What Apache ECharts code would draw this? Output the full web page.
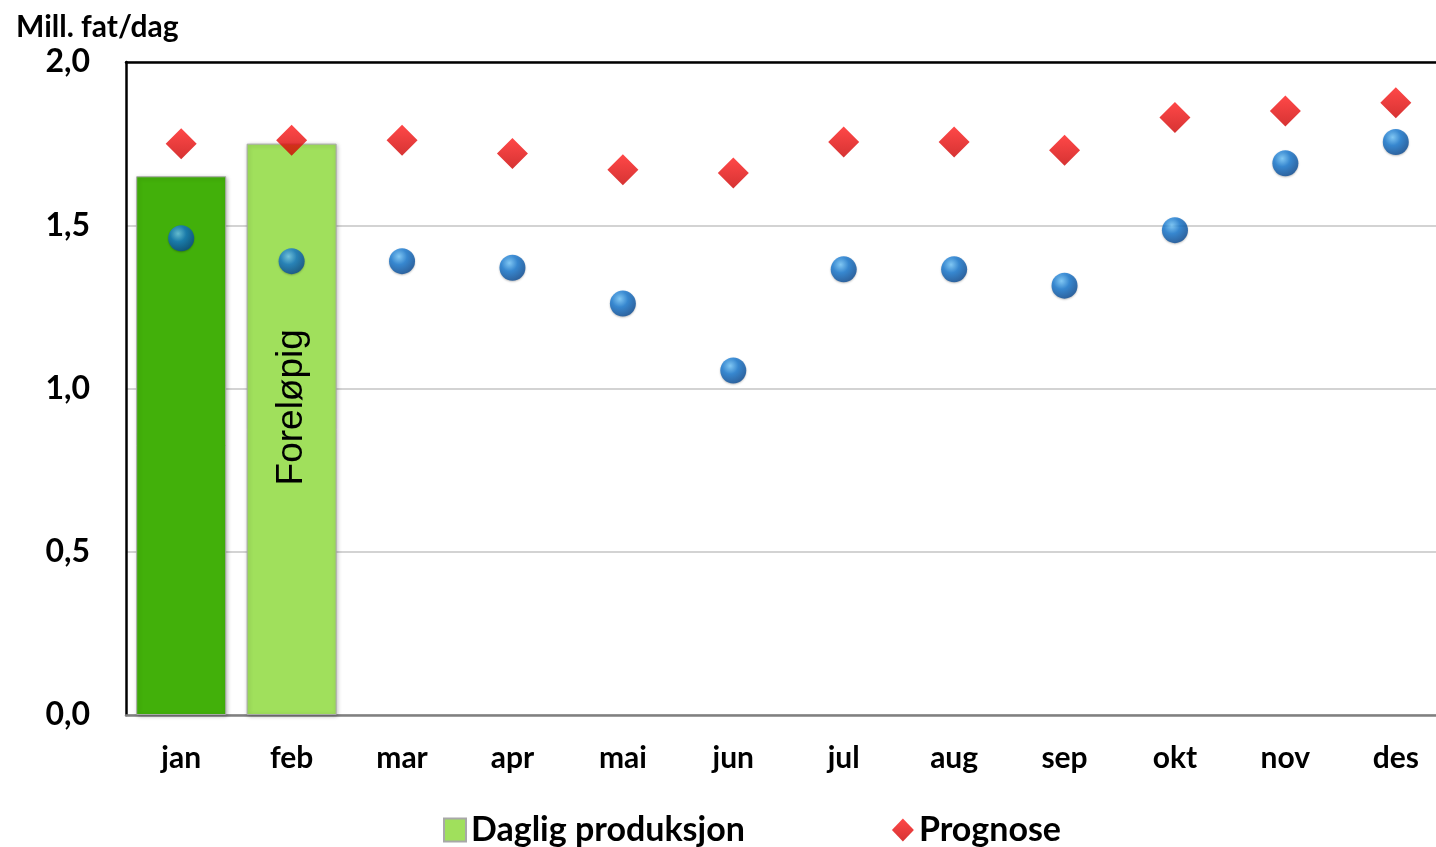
<!DOCTYPE html>
<html>
<head>
<meta charset="utf-8">
<script src="https://cdn.jsdelivr.net/npm/echarts@6/dist/echarts.min.js"></script>
<style>
  html, body { margin: 0; padding: 0; background: #fff; }
  #main { width: 1436px; height: 847px; }
</style>
</head>
<body>
<div id="main"></div>
<script>
var months = ['jan', 'feb', 'mar', 'apr', 'mai', 'jun', 'jul', 'aug', 'sep', 'okt', 'nov', 'des'];
var produksjon = [1.65, 1.75];
var prognose = [1.75, 1.76, 1.76, 1.72, 1.67, 1.66, 1.755, 1.755, 1.73, 1.83, 1.85, 1.875];
var tidligere = [1.46, 1.39, 1.39, 1.37, 1.26, 1.055, 1.365, 1.365, 1.315, 1.485, 1.69, 1.755];
var yTicks = [0, 0.5, 1.0, 1.5, 2.0];

var chart = echarts.init(document.getElementById('main'));
var font = 'Lato, "Open Sans", sans-serif';

var blueBall = new echarts.graphic.RadialGradient(0.38, 0.32, 0.7, [
  { offset: 0, color: '#70c8ff' },
  { offset: 0.45, color: '#1478d2' },
  { offset: 1, color: '#084a94' }
]);
var redDiamond = new echarts.graphic.LinearGradient(0, 0, 0, 1, [
  { offset: 0, color: '#ff1a1a' },
  { offset: 1, color: '#cc0000' }
]);

var barData = produksjon.map(function (v, i) {
  if (i == 0) {
    return { value: v, itemStyle: { color: '#42b00a' } };
  }
  // feb er foreløpig tall
  return {
    value: v,
    label: {
      show: true,
      position: 'inside',
      rotate: 90,
      formatter: 'Foreløpig',
      fontFamily: '"Liberation Sans", Arial, sans-serif',
      fontSize: 37,
      color: '#000',
      offset: [22, 0]
    }
  };
});

var option = {
  animation: false,
  title: {
    text: 'Mill. fat/dag',
    left: 11,
    top: 7,
    textStyle: { fontFamily: font, fontWeight: 'bold', fontSize: 30, color: '#000' }
  },
  legend: {
    data: [
      { name: 'Daglig produksjon', icon: 'rect' },
      { name: 'Prognose', icon: 'diamond' }
    ],
    left: 438,
    top: 808,
    itemWidth: 22,
    itemHeight: 23,
    itemGap: 147,
    textStyle: { fontFamily: font, fontWeight: 'bold', fontSize: 34, color: '#000' }
  },
  grid: {
    left: 126,
    top: 62,
    bottom: 132,
    width: 1325,
    outerBoundsMode: 'none'
  },
  xAxis: [
    {
      type: 'category',
      data: months,
      axisLine: { lineStyle: { color: '#808080', width: 2.5 } },
      axisTick: { show: false },
      axisLabel: {
        fontFamily: font, fontWeight: 'bold', fontSize: 30, color: '#000', margin: 28
      }
    },
    {
      // bare for den svarte rammen øverst
      type: 'category',
      position: 'top',
      data: months,
      axisLine: { lineStyle: { color: '#000', width: 2.5 } },
      axisTick: { show: false },
      axisLabel: { show: false }
    }
  ],
  yAxis: {
    type: 'value',
    min: 0,
    max: 2,
    interval: 0.5,
    axisLine: { show: true, lineStyle: { color: '#000', width: 2.5 } },
    axisTick: { show: false },
    splitLine: { lineStyle: { color: '#c4c4c4', width: 1.5 } },
    axisLabel: {
      fontFamily: font, fontWeight: 'bold', fontSize: 32, color: '#000', margin: 36,
      formatter: function (v) {
        return yTicks.indexOf(v) >= 0 ? v.toFixed(1).replace('.', ',') : '';
      }
    }
  },
  series: [
    {
      name: 'Daglig produksjon',
      type: 'bar',
      barWidth: 90,
      data: barData,
      itemStyle: {
        color: '#a0e05c',
        borderColor: '#a8a8a8',
        borderWidth: 1,
        shadowColor: 'rgba(0,0,0,0.25)',
        shadowBlur: 4,
        shadowOffsetX: 1,
        shadowOffsetY: 1
      },
      z: 2
    },
    {
      name: 'Tidligere prognose',
      type: 'scatter',
      symbol: 'circle',
      symbolSize: 26,
      data: tidligere,
      itemStyle: {
        color: blueBall,
        shadowColor: 'rgba(0,0,0,0.3)',
        shadowBlur: 2,
        shadowOffsetY: 1
      },
      z: 3
    },
    {
      name: 'Prognose',
      type: 'scatter',
      symbol: 'diamond',
      symbolSize: 31,
      data: prognose,
      itemStyle: { color: redDiamond },
      z: 4
    }
  ]
};

chart.setOption(option);
</script>
</body>
</html>
